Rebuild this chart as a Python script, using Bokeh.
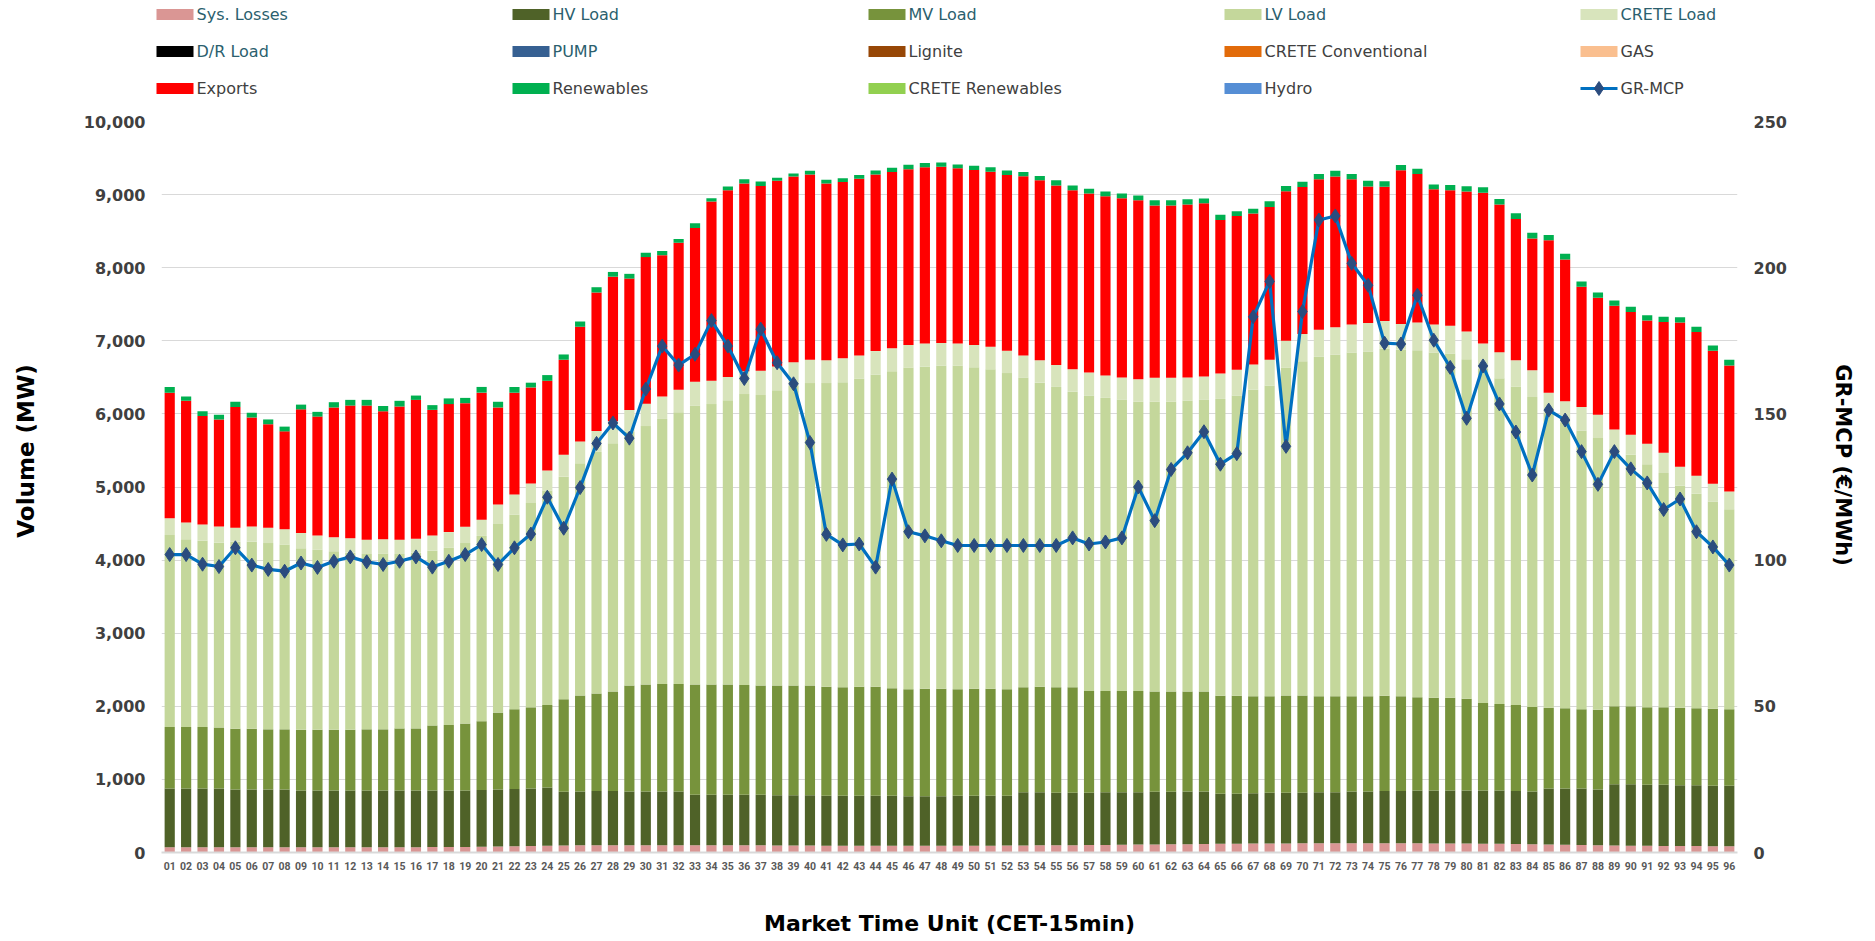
from bokeh.plotting import figure
from bokeh.layouts import column
from bokeh.models import (FactorRange, Range1d, LinearAxis,
                          NumeralTickFormatter, FixedTicker, ColumnDataSource)
from bokeh.core.properties import value
from bokeh.embed import file_html
from bokeh.resources import INLINE

mtu = ["%02d" % i for i in range(1, 97)]

losses = [72, 72, 72, 72, 72, 72, 72, 72, 72, 72,
          72, 72, 72, 72, 72, 72, 74, 74, 76, 78,
          82, 86, 90, 94, 96, 98, 98, 98, 98, 98,
          98, 98, 98, 98, 98, 98, 98, 96, 96, 96,
          94, 94, 94, 94, 94, 94, 94, 94, 94, 94,
          94, 96, 96, 98, 100, 100, 102, 104, 106, 108,
          110, 112, 114, 116, 118, 120, 122, 124, 124, 126,
          126, 126, 126, 126, 126, 126, 126, 124, 124, 124,
          120, 118, 116, 112, 110, 106, 104, 100, 96, 94,
          92, 90, 88, 88, 86, 86]

hv_load = [803, 803, 803, 803, 790, 790, 790, 790, 777, 777,
           777, 777, 777, 777, 777, 777, 775, 775, 773, 778,
           780, 783, 785, 794, 734, 738, 745, 745, 738, 738,
           738, 738, 692, 692, 692, 692, 692, 688, 688, 688,
           683, 683, 683, 683, 683, 677, 677, 677, 683, 683,
           683, 681, 727, 725, 717, 717, 715, 719, 717, 715,
           720, 718, 722, 720, 685, 683, 688, 693, 693, 691,
           697, 697, 710, 710, 717, 717, 723, 725, 725, 725,
           729, 731, 727, 724, 765, 769, 771, 762, 838, 840,
           836, 838, 833, 833, 828, 828]

mv_load = [843, 843, 843, 836, 830, 830, 823, 823, 830, 830,
           830, 830, 836, 836, 849, 849, 889, 895, 915, 940,
           1052, 1091, 1111, 1130, 1267, 1313, 1332, 1358, 1450, 1463,
           1470, 1470, 1509, 1509, 1509, 1503, 1496, 1502, 1502, 1502,
           1490, 1483, 1490, 1490, 1470, 1463, 1469, 1469, 1457, 1463,
           1463, 1457, 1437, 1444, 1443, 1443, 1391, 1385, 1385, 1385,
           1371, 1371, 1365, 1365, 1340, 1340, 1326, 1319, 1332, 1332,
           1313, 1313, 1300, 1300, 1300, 1293, 1274, 1267, 1267, 1254,
           1196, 1182, 1175, 1156, 1104, 1098, 1085, 1091, 1065, 1065,
           1058, 1058, 1058, 1052, 1052, 1046]

lv_load = [2626, 2567, 2547, 2528, 2560, 2560, 2548, 2528, 2482, 2462,
           2443, 2423, 2398, 2404, 2385, 2404, 2390, 2423, 2469, 2535,
           2580, 2665, 2795, 2933, 3044, 3175, 3305, 3397, 3469, 3534,
           3625, 3717, 3815, 3835, 3887, 3978, 3972, 4037, 4102, 4135,
           4154, 4174, 4213, 4272, 4337, 4396, 4410, 4423, 4429, 4397,
           4370, 4324, 4233, 4160, 4109, 4043, 4043, 4011, 3984, 3958,
           3965, 3965, 3978, 3991, 4062, 4108, 4194, 4252, 4481, 4572,
           4644, 4677, 4703, 4716, 4748, 4742, 4749, 4723, 4710, 4645,
           4572, 4455, 4357, 4240, 4030, 3912, 3814, 3717, 3521, 3442,
           3325, 3207, 3038, 2933, 2835, 2737]

crete_load = [229, 229, 222, 222, 189, 209, 209, 209, 209, 196,
              189, 196, 196, 196, 196, 189, 209, 216, 222, 222,
              268, 274, 268, 274, 300, 300, 287, 300, 300, 307,
              307, 307, 327, 320, 320, 314, 333, 327, 320, 320,
              314, 327, 320, 320, 314, 314, 314, 307, 300, 307,
              307, 307, 307, 307, 300, 307, 314, 307, 307, 307,
              327, 327, 320, 320, 346, 353, 346, 353, 372, 372,
              372, 372, 385, 392, 379, 353, 379, 385, 379, 379,
              346, 359, 359, 366, 281, 287, 320, 320, 268, 274,
              281, 274, 261, 248, 242, 242]

exports = [1718, 1666, 1483, 1463, 1653, 1489, 1417, 1339, 1692, 1626,
           1777, 1816, 1835, 1751, 1822, 1901, 1718, 1751, 1692, 1738,
           1326, 1391, 1313, 1228, 1300, 1568, 1894, 1979, 1796, 2005,
           1933, 2012, 2103, 2450, 2554, 2567, 2528, 2541, 2541, 2534,
           2417, 2410, 2417, 2417, 2410, 2404, 2410, 2410, 2397, 2391,
           2397, 2404, 2450, 2463, 2456, 2450, 2450, 2450, 2450, 2450,
           2358, 2358, 2365, 2371, 2103, 2103, 2064, 2090, 2045, 2012,
           2058, 2064, 1986, 1868, 1836, 2103, 2031, 1849, 1855, 1914,
           2064, 2018, 1933, 1803, 2084, 1940, 1646, 1600, 1692, 1679,
           1685, 1790, 1973, 1966, 1822, 1724]

renewables = [78, 59, 65, 65, 72, 65, 65, 65, 65, 65,
              72, 78, 78, 72, 78, 59, 65, 78, 72, 78,
              78, 78, 65, 78, 72, 72, 72, 65, 65, 59,
              59, 52, 65, 46, 52, 59, 59, 39, 39, 52,
              52, 52, 52, 52, 59, 59, 59, 59, 52, 59,
              59, 59, 59, 59, 72, 65, 65, 65, 65, 65,
              72, 72, 72, 65, 72, 65, 65, 78, 72, 72,
              72, 78, 72, 78, 78, 72, 72, 65, 72, 72,
              72, 78, 78, 78, 72, 78, 72, 72, 72, 72,
              72, 72, 72, 72, 72, 78]

zero = [0] * 96
dr_load = zero
pump = zero
lignite = zero
crete_conv = zero
gas = zero
crete_renew = zero
hydro = zero

gr_mcp = [101.9, 101.9, 98.6, 97.8, 104.2, 98.3, 96.8, 96.2, 99.0, 97.5,
          99.6, 101.1, 99.4, 98.5, 99.6, 101.1, 97.6, 99.6, 101.9, 105.3,
          98.5, 104.2, 108.9, 121.5, 110.9, 124.8, 139.9, 146.9, 141.7, 158.5,
          173.2, 166.7, 170.4, 181.9, 173.2, 162.1, 179.0, 167.5, 160.3, 140.2,
          108.8, 105.2, 105.5, 97.6, 127.7, 109.7, 108.3, 106.6, 105.0, 105.0,
          105.0, 105.0, 105.0, 105.0, 105.0, 107.6, 105.5, 106.2, 107.6, 125.0,
          113.5, 131.0, 136.7, 143.9, 132.8, 136.4, 183.2, 195.3, 138.9, 185.0,
          216.3, 217.7, 201.5, 194.0, 174.2, 173.9, 190.6, 175.2, 165.9, 148.5,
          166.4, 153.4, 143.8, 129.1, 151.3, 147.9, 137.1, 125.9, 137.1, 131.2,
          126.4, 117.3, 120.9, 109.7, 104.5, 98.3]

TEAL = "#2B5F6E"
GREY = "#404040"
LINE_BLUE = "#0070C0"
MARK_BLUE = "#2B4C7E"

# key, legend label, bar colour, legend text colour, values
series = [
    ("losses", "Sys. Losses", "#DA9694", TEAL, losses),
    ("hv", "HV Load", "#4F6228", TEAL, hv_load),
    ("mv", "MV Load", "#77933C", TEAL, mv_load),
    ("lv", "LV Load", "#C4D79B", TEAL, lv_load),
    ("crete", "CRETE Load", "#D8E4BC", TEAL, crete_load),
    ("dr", "D/R Load", "#000000", TEAL, dr_load),
    ("pump", "PUMP", "#366092", TEAL, pump),
    ("lignite", "Lignite", "#974706", GREY, lignite),
    ("crete_conv", "CRETE Conventional", "#E26B0A", GREY, crete_conv),
    ("gas", "GAS", "#FABF8F", GREY, gas),
    ("exports", "Exports", "#FF0000", GREY, exports),
    ("renew", "Renewables", "#00B050", GREY, renewables),
    ("crete_renew", "CRETE Renewables", "#92D050", GREY, crete_renew),
    ("hydro", "Hydro", "#558ED5", GREY, hydro),
]

data = {"mtu": mtu, "price": gr_mcp}
for key, _, _, _, vals in series:
    data[key] = vals
source = ColumnDataSource(data)

FONT = "DejaVu Sans"
W = 1873
BL, BR = 161, 136          # left / right borders of the plot frames
NBSP = "\u00a0"

# ---------------- legend panel (5 columns x 3 rows) ----------------
LEG_H = 107
lf = figure(width=W, height=LEG_H, x_range=Range1d(BL, W - BR),
            y_range=Range1d(LEG_H, 0),
            output_backend="svg", toolbar_location=None, title=None,
            x_axis_type=None, y_axis_type=None,
            min_border_left=BL, min_border_right=BR,
            min_border_top=0, min_border_bottom=0)
lf.outline_line_color = None
lf.xgrid.visible = False
lf.ygrid.visible = False

COL_PITCH = 356
COL0 = 156
ROW_Y = [14, 51, 88]
SW_W, SW_H = 37, 11

n_bar_items = len(series)
leg = {"x": [], "y": [], "tx": [], "label": [], "fill": [], "tcol": []}
for i, (key, label, col, tcol, _) in enumerate(series):
    c, r = i % 5, i // 5
    leg["x"].append(COL0 + c * COL_PITCH + SW_W / 2)
    leg["y"].append(ROW_Y[r])
    leg["tx"].append(COL0 + c * COL_PITCH + SW_W + 3)
    leg["label"].append(label)
    leg["fill"].append(col)
    leg["tcol"].append(tcol)
leg_src = ColumnDataSource(leg)
lf.rect(x="x", y="y", width=SW_W, height=SW_H, source=leg_src,
        fill_color="fill", line_color=None, level="overlay")
lf.text(x="tx", y="y", text="label", source=leg_src, text_color="tcol",
        text_font=value(FONT), text_font_size="16px", text_baseline="middle",
        text_align="left", level="overlay")

# GR-MCP legend entry (line with diamond marker)
gi = n_bar_items
gc, gr = gi % 5, gi // 5
gx0 = COL0 + gc * COL_PITCH
lf.line(x=[gx0, gx0 + SW_W], y=[ROW_Y[gr], ROW_Y[gr]], line_color=LINE_BLUE,
        line_width=3.2, level="overlay")
lf.scatter(x=[gx0 + SW_W / 2], y=[ROW_Y[gr]], marker="diamond", size=14,
           fill_color=MARK_BLUE, line_color=MARK_BLUE, level="overlay")
lf.text(x=[gx0 + SW_W + 3], y=[ROW_Y[gr]], text=["GR-MCP"], text_color=GREY,
        text_font=value(FONT), text_font_size="16px", text_baseline="middle",
        text_align="left", level="overlay")

# ---------------- main chart ----------------
p = figure(width=W, height=833, x_range=FactorRange(factors=mtu),
           y_range=Range1d(0, 10000), output_backend="svg",
           toolbar_location=None, title=None,
           min_border_left=BL, min_border_right=BR,
           min_border_top=14, min_border_bottom=88)
p.outline_line_color = None

stack_keys = [s[0] for s in series]
stack_colors = [s[2] for s in series]
p.vbar_stack(stack_keys, x="mtu", width=0.62, source=source,
             fill_color=stack_colors, line_color=None)

p.extra_y_ranges = {"price": Range1d(0, 250)}
p.line("mtu", "price", source=source, y_range_name="price",
       line_color=LINE_BLUE, line_width=3.2)
p.scatter("mtu", "price", source=source, y_range_name="price",
          marker="diamond", size=14, fill_color=MARK_BLUE, line_color=MARK_BLUE)

p.xgrid.grid_line_color = None
p.ygrid.grid_line_color = "#D9D9D9"
p.ygrid.grid_line_width = 1

# left axis
ya = p.yaxis[0]
ya.ticker = FixedTicker(ticks=[0, 1000, 2000, 3000, 4000, 5000, 6000, 7000, 8000, 9000, 10000])
ya.formatter = NumeralTickFormatter(format="0,0")
ya.axis_line_color = None
ya.major_tick_line_color = None
ya.minor_tick_line_color = None
ya.major_tick_out = 0
ya.minor_tick_out = 0
ya.major_label_text_font = FONT
ya.major_label_text_font_style = "bold"
ya.major_label_text_font_size = "16px"
ya.major_label_text_color = "#404040"
ya.major_label_standoff = 16
# leading no-break spaces lift the title slightly above the frame centre
ya.axis_label = NBSP * 9 + "Volume (MW)"
ya.axis_label_text_font = FONT
ya.axis_label_text_font_style = "bold"
ya.axis_label_text_font_size = "23px"
ya.axis_label_text_color = "#000000"
ya.axis_label_standoff = 42

# right axis
ra = LinearAxis(y_range_name="price",
                ticker=FixedTicker(ticks=[0, 50, 100, 150, 200, 250]))
ra.axis_line_color = None
ra.major_tick_line_color = None
ra.minor_tick_line_color = None
ra.major_tick_out = 0
ra.minor_tick_out = 0
ra.major_label_text_font = FONT
ra.major_label_text_font_style = "bold"
ra.major_label_text_font_size = "16px"
ra.major_label_text_color = "#404040"
ra.major_label_standoff = 16
ra.axis_label = "GR-MCP (€/MWh)" + NBSP * 6
ra.axis_label_text_font = FONT
ra.axis_label_text_font_style = "bold"
ra.axis_label_text_font_size = "21px"
ra.axis_label_text_color = "#000000"
ra.axis_label_standoff = 41
p.add_layout(ra, "right")

# bottom axis
xa = p.xaxis[0]
xa.axis_line_color = "#D9D9D9"
xa.axis_line_width = 2
xa.major_tick_line_color = None
xa.minor_tick_line_color = None
xa.major_tick_out = 0
xa.minor_tick_out = 0
xa.major_label_text_font = "Roboto"
xa.major_label_text_font_style = "bold"
xa.major_label_text_font_size = "10.5px"
xa.major_label_text_color = "#595959"
xa.major_label_standoff = 9
xa.axis_label = "Market Time Unit (CET-15min)"
xa.axis_label_text_font = FONT
xa.axis_label_text_font_style = "bold"
xa.axis_label_text_font_size = "22px"
xa.axis_label_text_color = "#000000"
xa.axis_label_standoff = 38

layout = column(lf, p, spacing=0)
open("out.html", "w").write(file_html(layout, INLINE))
